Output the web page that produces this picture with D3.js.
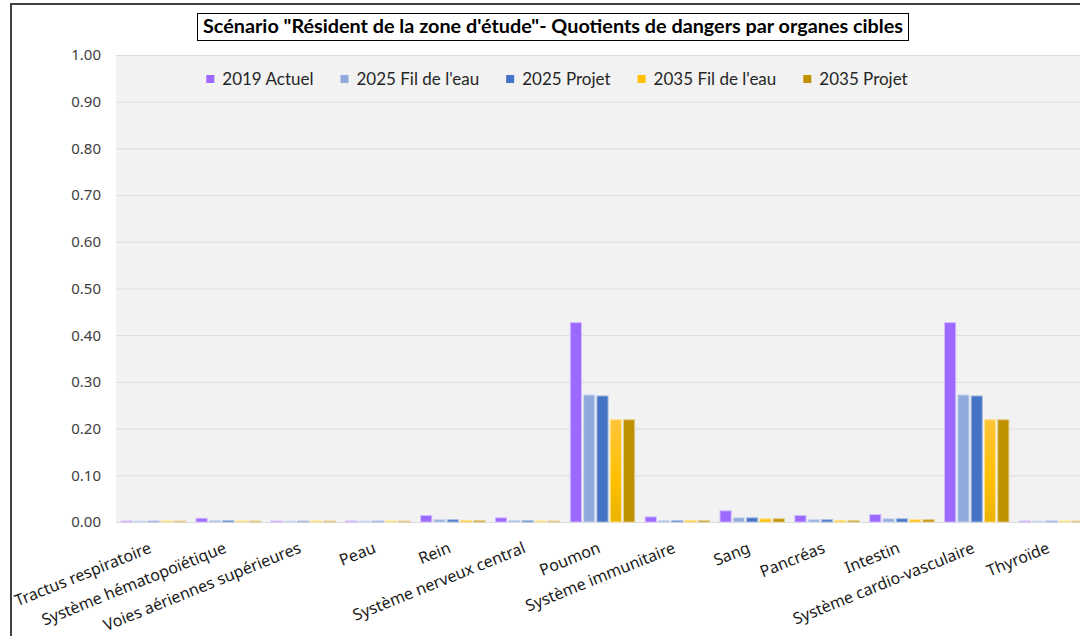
<!DOCTYPE html>
<html>
<head>
<meta charset="utf-8">
<script src="https://cdn.jsdelivr.net/npm/d3@7"></script>
<style>
  html, body { margin: 0; padding: 0; background: #ffffff; }
  svg { display: block; }
</style>
</head>
<body>
<script>
// Hazard quotients per target organ, "Résident de la zone d'étude" scenario
const categories = [
  "Tractus respiratoire", "Système hématopoïétique", "Voies aériennes supérieures",
  "Peau", "Rein", "Système nerveux central", "Poumon", "Système immunitaire",
  "Sang", "Pancréas", "Intestin", "Système cardio-vasculaire", "Thyroïde"
];
const seriesNames = ["2019 Actuel", "2025 Fil de l'eau", "2025 Projet", "2035 Fil de l'eau", "2035 Projet"];
const actuel2019   = [0.002, 0.008, 0.002, 0.002, 0.014, 0.009, 0.427, 0.011, 0.024, 0.014, 0.016, 0.427, 0.002];
const filEau2025   = [0.002, 0.003, 0.002, 0.002, 0.005, 0.003, 0.272, 0.003, 0.009, 0.005, 0.007, 0.272, 0.002];
const projet2025   = [0.002, 0.003, 0.002, 0.002, 0.005, 0.003, 0.270, 0.003, 0.009, 0.005, 0.007, 0.270, 0.002];
const filEau2035   = [0.002, 0.002, 0.002, 0.002, 0.003, 0.002, 0.219, 0.003, 0.007, 0.003, 0.005, 0.219, 0.002];
const projet2035   = [0.002, 0.002, 0.002, 0.002, 0.003, 0.002, 0.219, 0.003, 0.007, 0.003, 0.005, 0.219, 0.002];
const yTicks = [0, 0.1, 0.2, 0.3, 0.4, 0.5, 0.6, 0.7, 0.8, 0.9, 1.0];
const titleText = "Scénario \"Résident de la zone d'étude\"- Quotients de dangers par organes cibles";

const seriesValues = [actuel2019, filEau2025, projet2025, filEau2035, projet2035];
const colors = ["#9b69fe", "#8faadc", "#4472c4", "#ffc000", "#bf9000"];

const W = 1080, H = 636;
const plot = { left: 116, top: 55, right: 1089, bottom: 522 };
const labelFont = "'Noto Sans', 'Open Sans', sans-serif";

const svg = d3.select("body").append("svg").attr("width", W).attr("height", H);

const defs = svg.append("defs");
// soft vertical sheen on the yellow bars
const grad = defs.append("linearGradient").attr("id", "yellowGrad")
  .attr("x1", 0).attr("y1", 0).attr("x2", 0).attr("y2", 1);
grad.append("stop").attr("offset", "0%").attr("stop-color", "#ffc43a");
grad.append("stop").attr("offset", "60%").attr("stop-color", "#ffc000");
grad.append("stop").attr("offset", "100%").attr("stop-color", "#e9b300");

// frame lines
svg.append("line").attr("x1", 11).attr("x2", W).attr("y1", 4).attr("y2", 4)
  .attr("stroke", "#404040").attr("stroke-width", 2);
svg.append("line").attr("x1", 11).attr("x2", 11).attr("y1", 3).attr("y2", H)
  .attr("stroke", "#404040").attr("stroke-width", 2);

// plot area background
svg.append("rect")
  .attr("x", plot.left).attr("y", plot.top)
  .attr("width", plot.right - plot.left).attr("height", plot.bottom - plot.top)
  .attr("fill", "#f2f2f2");

const x = d3.scaleBand().domain(categories).range([plot.left, plot.right])
  .paddingInner(0.14).paddingOuter(0.07);
const xs = d3.scaleBand().domain(seriesNames).range([0, x.bandwidth()]).paddingInner(0.16);
const y = d3.scaleLinear().domain([0, 1]).range([plot.bottom, plot.top]);

// gridlines and y labels
const yAxis = d3.axisLeft(y).tickValues(yTicks).tickFormat(d3.format(".2f"))
  .tickSize(-(plot.right - plot.left)).tickPadding(15);
const gy = svg.append("g").attr("transform", `translate(${plot.left},0)`).call(yAxis);
gy.attr("font-family", null).attr("font-size", null);
gy.select(".domain").remove();
gy.selectAll(".tick line").attr("stroke", "#dcdcdc").attr("stroke-width", 1);
gy.selectAll(".tick text")
  .style("font-family", labelFont).style("font-size", "15px")
  .attr("fill", "#404040");

// bars
const groups = svg.append("g").selectAll("g")
  .data(seriesNames.map((name, i) => ({ name, color: colors[i], values: seriesValues[i] })))
  .join("g");
groups.selectAll("rect")
  .data(s => s.values.map((v, j) => ({ cat: categories[j], v, s })))
  .join("rect")
  .attr("x", d => x(d.cat) + xs(d.s.name))
  .attr("y", d => y(d.v))
  .attr("width", xs.bandwidth())
  .attr("height", d => y(0) - y(d.v))
  .attr("fill", d => d.s.name === "2035 Fil de l'eau" ? "url(#yellowGrad)" : d.s.color)
  .attr("stroke", d => d3.interpolateRgb(d.s.color, "#ffffff")(0.55))
  .attr("stroke-width", 1);

// x category labels, rotated
const xl = svg.append("g");
categories.forEach(c => {
  const cx = x(c) + x.bandwidth() / 2 - 1;
  xl.append("text")
    .attr("transform", `translate(${cx},552) rotate(-22)`)
    .attr("text-anchor", "end")
    .style("font-family", labelFont).style("font-size", "16px")
    .attr("fill", "#1a1a1a")
    .text(c);
});

// legend
const legend = svg.append("g");
let lx = 0;
seriesNames.forEach((name, i) => {
  const g = legend.append("g");
  g.append("rect").attr("x", 0).attr("y", -10).attr("width", 8).attr("height", 8).attr("fill", colors[i]);
  const t = g.append("text").attr("x", 16).attr("y", 0)
    .style("font-family", "'Lato', sans-serif").style("font-size", "17px")
    .attr("fill", "#262626").text(name);
  const w = 16 + t.node().getComputedTextLength();
  g.attr("transform", `translate(${lx},0)`);
  lx += w + 27;
});
const legendWidth = lx - 27;
legend.attr("transform", `translate(${557 - legendWidth / 2},85)`);

// title box
const title = svg.append("g");
title.append("rect").attr("x", 197.5).attr("y", 13.5).attr("width", 711).attr("height", 27)
  .attr("fill", "#ffffff").attr("stroke", "#000000").attr("stroke-width", 1);
title.append("text").attr("x", 553).attr("y", 33)
  .attr("text-anchor", "middle")
  .style("font-family", "'Lato', sans-serif")
  .style("font-weight", "bold").style("font-size", "19px")
  .attr("textLength", 700).attr("lengthAdjust", "spacingAndGlyphs")
  .attr("fill", "#000000")
  .text(titleText);
</script>
</body>
</html>
